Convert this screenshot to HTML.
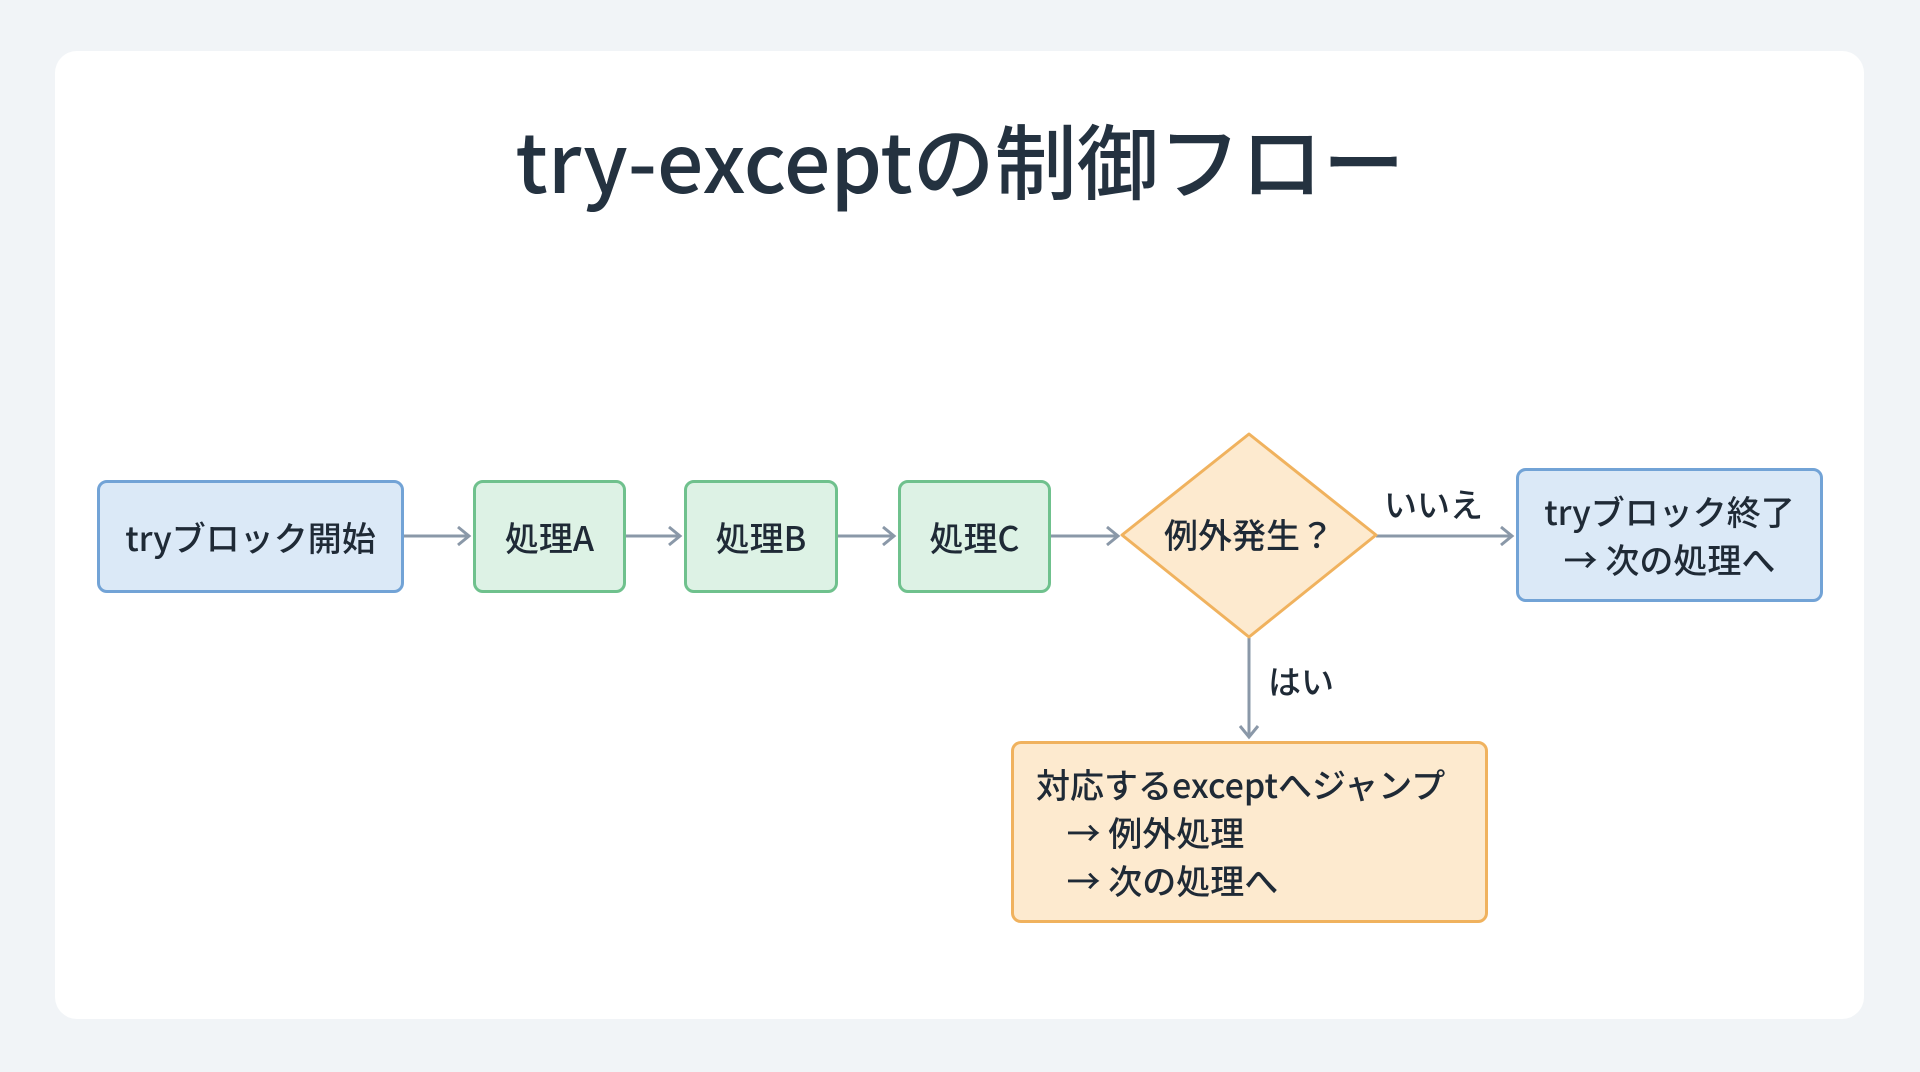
<!DOCTYPE html>
<html><head><meta charset="utf-8"><style>
body{margin:0;width:1920px;height:1072px;background:#f1f4f7;position:relative;overflow:hidden;font-family:"Noto Sans CJK JP","Liberation Sans",sans-serif;color:#1f2a36}
.card{position:absolute;left:55px;top:51px;width:1809px;height:968px;background:#fff;border-radius:22px}
.title{position:absolute;left:0;width:1920px;top:108px;text-align:center;font-size:82px;line-height:100px;color:#243240;font-weight:500}
.box{position:absolute;box-sizing:border-box;border:3px solid;border-radius:10px;display:flex;align-items:center;justify-content:center;font-size:34px;font-weight:500;text-align:center;line-height:48px}
.b{background:#dbe9f7;border-color:#72a3d6}
.g{background:#ddf2e5;border-color:#6fc18d}
.o{background:#fdeacf;border-color:#f0b25e}
.lbl{position:absolute;font-size:33px;line-height:40px;font-weight:500}
</style></head><body>
<div class="card"></div>
<div class="title">try-exceptの制御フロー</div>
<svg width="1920" height="1072" style="position:absolute;left:0;top:0">
<g stroke="#8a98a8" stroke-width="3" fill="none">
<line x1="404" y1="536" x2="469" y2="536"/><polyline points="458,527 469,536 458,545"/>
<line x1="626" y1="536" x2="680" y2="536"/><polyline points="669,527 680,536 669,545"/>
<line x1="838" y1="536" x2="894" y2="536"/><polyline points="883,527 894,536 883,545"/>
<line x1="1051" y1="536" x2="1118" y2="536"/><polyline points="1107,527 1118,536 1107,545"/>
<line x1="1376" y1="536" x2="1512" y2="536"/><polyline points="1501,527 1512,536 1501,545"/>
<line x1="1249" y1="638" x2="1249" y2="737"/><polyline points="1240,726 1249,737 1258,726"/>
</g>
<polygon points="1249,434 1376,535 1249,637 1122,535" fill="#fdeacf" stroke="#f0b25e" stroke-width="3" stroke-linejoin="round"/>
<text x="1249" y="548" text-anchor="middle" font-size="34" font-weight="500" fill="#1f2a36" font-family="Noto Sans CJK JP, Liberation Sans, sans-serif">例外発生？</text>
</svg>
<div class="box b" style="left:97px;top:480px;width:307px;height:113px">tryブロック開始</div>
<div class="box g" style="left:473px;top:480px;width:153px;height:113px">処理A</div>
<div class="box g" style="left:684px;top:480px;width:154px;height:113px">処理B</div>
<div class="box g" style="left:898px;top:480px;width:153px;height:113px">処理C</div>
<div class="box b" style="left:1516px;top:468px;width:307px;height:134px">tryブロック終了<br>→ 次の処理へ</div>
<div class="box o" style="left:1011px;top:741px;width:477px;height:182px;justify-content:flex-start;padding-left:22px;text-align:left">対応するexceptへジャンプ<br>&nbsp;&nbsp;&nbsp;&nbsp;→ 例外処理<br>&nbsp;&nbsp;&nbsp;&nbsp;→ 次の処理へ</div>
<div class="lbl" style="left:1384px;top:483px">いいえ</div>
<div class="lbl" style="left:1268px;top:660px">はい</div>
</body></html>
